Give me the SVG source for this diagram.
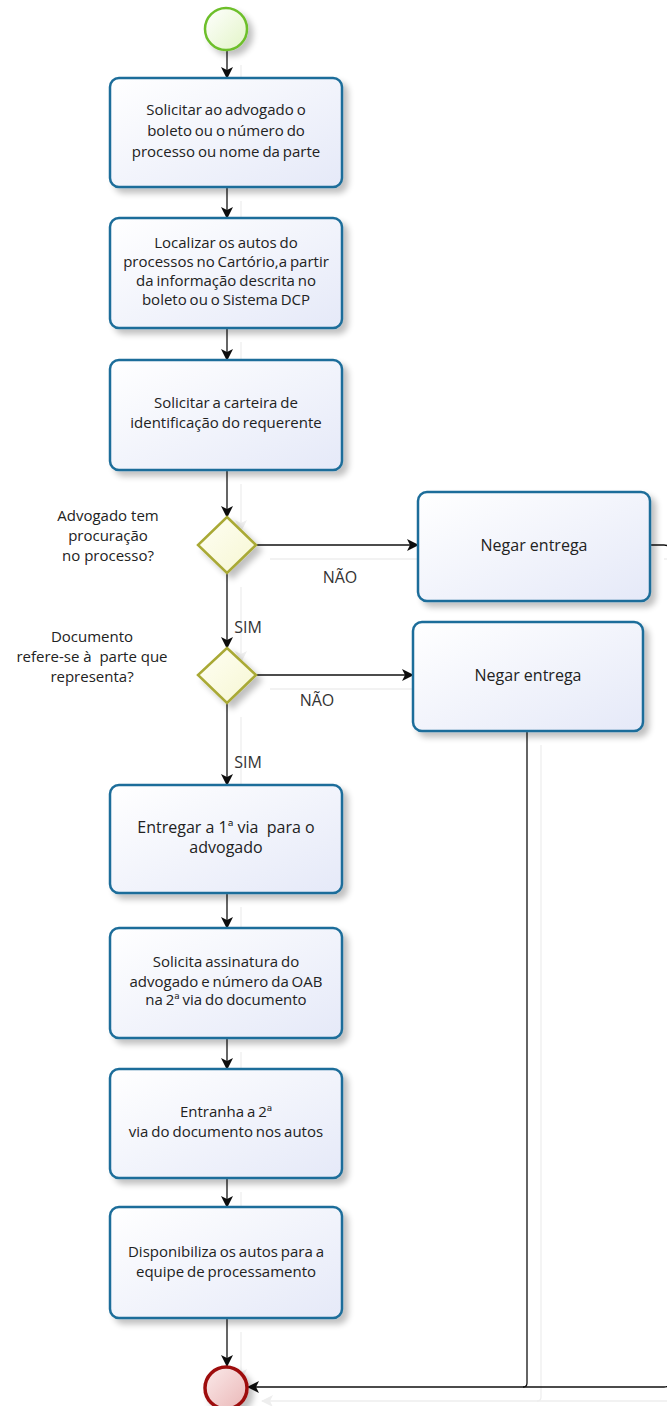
<svg xmlns="http://www.w3.org/2000/svg" width="667" height="1406" viewBox="0 0 667 1406">
  <defs>
    <linearGradient id="taskFill" x1="0" y1="0" x2="1" y2="1">
      <stop offset="0" stop-color="#ffffff"/>
      <stop offset="1" stop-color="#e5e9f8"/>
    </linearGradient>
    <linearGradient id="gateFill" x1="0" y1="0" x2="1" y2="1">
      <stop offset="0" stop-color="#fffff4"/>
      <stop offset="1" stop-color="#f6f6d2"/>
    </linearGradient>
    <linearGradient id="startFill" x1="0" y1="0" x2="1" y2="1">
      <stop offset="0" stop-color="#ffffff"/>
      <stop offset="1" stop-color="#e2f4c6"/>
    </linearGradient>
    <linearGradient id="endFill" x1="0" y1="0" x2="1" y2="1">
      <stop offset="0" stop-color="#fbeaea"/>
      <stop offset="1" stop-color="#eab7b7"/>
    </linearGradient>
    <filter id="nodeShadow" x="-20%" y="-20%" width="150%" height="150%">
      <feGaussianBlur in="SourceAlpha" stdDeviation="3"/>
      <feOffset dx="5" dy="5" result="off"/>
      <feComponentTransfer><feFuncA type="linear" slope="0.25"/></feComponentTransfer>
      <feMerge><feMergeNode/><feMergeNode in="SourceGraphic"/></feMerge>
    </filter>
    <filter id="lineShadow" x="-10%" y="-10%" width="130%" height="130%">
      <feOffset in="SourceAlpha" dx="14" dy="14"/>
      <feComponentTransfer><feFuncA type="linear" slope="0.07"/></feComponentTransfer>
      <feMerge><feMergeNode/><feMergeNode in="SourceGraphic"/></feMerge>
    </filter>
    <marker id="arrow" viewBox="0 0 12 12" refX="11" refY="6" markerWidth="12" markerHeight="12" markerUnits="userSpaceOnUse" orient="auto">
      <path d="M0,0 L12,6 L0,12 L3,6 Z" fill="#111"/>
    </marker>
  </defs>
  <style>
    .task { fill: url(#taskFill); stroke: #1d6d9a; stroke-width: 2.5; filter: url(#nodeShadow); }
    .gate { fill: url(#gateFill); stroke: #a9a935; stroke-width: 2.5; filter: url(#nodeShadow); }
    .start { fill: url(#startFill); stroke: #6dbf2b; stroke-width: 2.5; filter: url(#nodeShadow); }
    .end { fill: url(#endFill); stroke: #9e1111; stroke-width: 3.5; filter: url(#nodeShadow); }
    .flow { fill: none; stroke: #111; stroke-width: 1.3; }
    .arr { marker-end: url(#arrow); }
    text { font-family: "Open Sans", "Liberation Sans", sans-serif; font-size: 15px; fill: #222; text-anchor: middle; word-spacing: -1px; }
    .big { font-size: 16px; word-spacing: 0; }
    .q { font-size: 15px; word-spacing: 0; }
    .lbl { font-size: 16px; fill: #333; word-spacing: 0; }
  </style>

  <!-- sequence flows -->
  <g id="connectors">
    <g filter="url(#lineShadow)">
      <path class="flow arr" d="M227,51 V78"/>
      <path class="flow arr" d="M227,187 V218"/>
      <path class="flow arr" d="M227,328 V360"/>
      <path class="flow arr" d="M227,470 V517"/>
      <path class="flow arr" d="M256,545 H418"/>
      <path class="flow arr" d="M227,573 V648"/>
      <path class="flow arr" d="M256,675 H413"/>
      <path class="flow arr" d="M227,703 V785"/>
      <path class="flow arr" d="M227,893 V928"/>
      <path class="flow arr" d="M227,1038 V1069"/>
      <path class="flow arr" d="M227,1178 V1207"/>
      <path class="flow arr" d="M227,1318 V1366"/>
      <path class="flow arr" d="M650,545 H664 Q670,545 670,551 V1381 Q670,1387 664,1387 H248"/>
      <path class="flow" d="M527,731 V1383 Q527,1387 523,1387"/>
    </g>
    <text class="lbl" x="340" y="583">NÃO</text>
    <text class="lbl" x="317" y="706">NÃO</text>
    <text class="lbl" x="248" y="633">SIM</text>
    <text class="lbl" x="248" y="768">SIM</text>
  </g>

  <g id="start">
    <circle class="start" cx="226" cy="29" r="21"/>
  </g>

  <g id="task-solicitar-boleto">
    <rect class="task" x="110" y="78" width="232" height="109" rx="9"/>
    <text x="226" y="115">Solicitar ao advogado o</text>
    <text x="226" y="136">boleto ou o número do</text>
    <text x="226" y="157">processo ou nome da parte</text>
  </g>

  <g id="task-localizar-autos">
    <rect class="task" x="110" y="218" width="232" height="110" rx="9"/>
    <text x="226" y="248">Localizar os autos do</text>
    <text x="226" y="267">processos no Cartório,a partir</text>
    <text x="226" y="286">da informação descrita no</text>
    <text x="226" y="305">boleto ou o Sistema DCP</text>
  </g>

  <g id="task-solicitar-carteira">
    <rect class="task" x="110" y="360" width="232" height="110" rx="9"/>
    <text x="226" y="408">Solicitar a carteira de</text>
    <text x="226" y="428">identificação do requerente</text>
  </g>

  <g id="gateway-procuracao">
    <polygon class="gate" points="227,517 256,545 227,573 198,545"/>
    <text class="q" x="108" y="521">Advogado tem</text>
    <text class="q" x="108" y="541">procuração</text>
    <text class="q" x="108" y="561">no processo?</text>
  </g>

  <g id="task-negar-1">
    <rect class="task" x="418" y="492" width="232" height="109" rx="9"/>
    <text class="big" x="534" y="551">Negar entrega</text>
  </g>

  <g id="gateway-documento">
    <polygon class="gate" points="227,648 256,675 227,703 198,675"/>
    <text class="q" x="92" y="642">Documento</text>
    <text class="q" x="92" y="662" xml:space="preserve">refere-se à  parte que</text>
    <text class="q" x="92" y="682">representa?</text>
  </g>

  <g id="task-negar-2">
    <rect class="task" x="413" y="622" width="230" height="109" rx="9"/>
    <text class="big" x="528" y="681">Negar entrega</text>
  </g>

  <g id="task-entregar-via">
    <rect class="task" x="110" y="785" width="232" height="108" rx="9"/>
    <text class="big" x="226" y="833" xml:space="preserve">Entregar a 1ª via  para o</text>
    <text class="big" x="226" y="853">advogado</text>
  </g>

  <g id="task-assinatura">
    <rect class="task" x="110" y="928" width="232" height="110" rx="9"/>
    <text x="226" y="967">Solicita assinatura do</text>
    <text x="226" y="987">advogado e número da OAB</text>
    <text x="226" y="1005">na 2ª via do documento</text>
  </g>

  <g id="task-entranha">
    <rect class="task" x="110" y="1069" width="232" height="109" rx="9"/>
    <text x="226" y="1117">Entranha a 2ª</text>
    <text x="226" y="1137">via do documento nos autos</text>
  </g>

  <g id="task-disponibiliza">
    <rect class="task" x="110" y="1207" width="232" height="111" rx="9"/>
    <text x="226" y="1257">Disponibiliza os autos para a</text>
    <text x="226" y="1277">equipe de processamento</text>
  </g>

  <g id="end">
    <circle class="end" cx="226" cy="1388" r="21"/>
  </g>
</svg>
